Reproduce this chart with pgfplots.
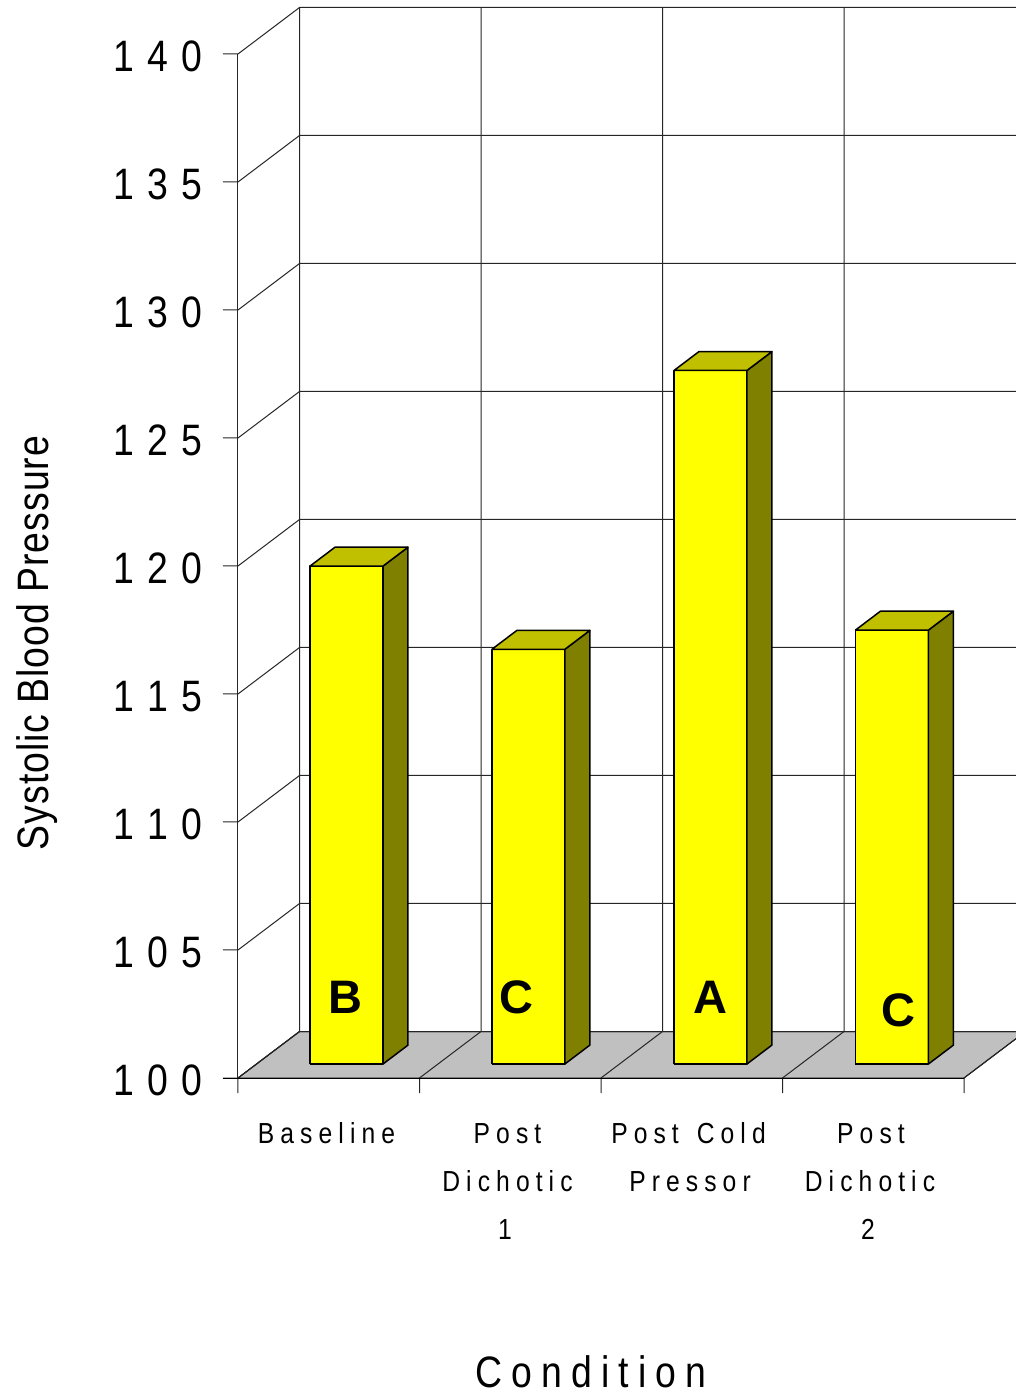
\documentclass[border=0pt]{standalone}
\usepackage{fontspec}
\usepackage{pgfplots}
\pgfplotsset{compat=1.18}
\setmainfont{Liberation Sans}
\newfontfamily\ticknumfont[LetterSpace=31,FakeStretch=0.85,Kerning=Off]{Liberation Sans}
\newfontfamily\catfont[LetterSpace=21,FakeStretch=0.85,Kerning=Off]{Liberation Sans}
\newfontfamily\xtitlefont[LetterSpace=20.5,FakeStretch=0.85,Kerning=Off]{Liberation Sans}
\newfontfamily\ytitlefont[LetterSpace=2.2,FakeStretch=0.85,Kerning=Off]{Liberation Sans}
\definecolor{barfront}{HTML}{FFFF00}
\definecolor{bartop}{HTML}{C0C000}
\definecolor{barside}{HTML}{808000}
\definecolor{floorgray}{HTML}{C0C0C0}
\definecolor{gridline}{HTML}{262626}

% One box: front left/right x, mean value. Depth runs from 0.301 to 0.707.
\newcommand{\boxbar}[3]{%
  \addplot3[fill=barfront,draw=black,line width=1.5pt,line join=round]
    coordinates {(#1,0.301,100)(#2,0.301,100)(#2,0.301,#3)(#1,0.301,#3)(#1,0.301,100)};
  \addplot3[fill=barside,draw=black,line width=1.5pt,line join=round]
    coordinates {(#2,0.301,100)(#2,0.707,100)(#2,0.707,#3)(#2,0.301,#3)(#2,0.301,100)};
  \addplot3[fill=bartop,draw=black,line width=1.5pt,line join=round]
    coordinates {(#1,0.301,#3)(#2,0.301,#3)(#2,0.707,#3)(#1,0.707,#3)(#1,0.301,#3)};
}

\begin{document}
\begin{tikzpicture}
\begin{axis}[
  hide axis, clip=false,
  x={(181.5pt,0pt)}, y={(61.5pt,46.5pt)}, z={(0pt,25.6pt)},
  xmin=0, xmax=4, ymin=0, ymax=1, zmin=100, zmax=140,
]
  \coordinate (base) at (axis cs:0,0,100);
  % floor
  \addplot3[fill=floorgray,draw=black,line width=1pt]
    coordinates {(0,0,100)(4,0,100)(4,1,100)(0,1,100)(0,0,100)};
  % side wall, back wall and value ticks
  \pgfplotsinvokeforeach{100,105,110,115,120,125,130,135,140}{
    \addplot3[draw=gridline,line width=1pt]
      coordinates {(-0.083,0,#1)(0,0,#1)(0,1,#1)(4,1,#1)};
  }
  \pgfplotsinvokeforeach{0,1,2,3,4}{
    \addplot3[draw=gridline,line width=1pt]
      coordinates {(#1,0,99.41)(#1,0,100)(#1,1,100)(#1,1,140)};
  }
  \addplot3[draw=gridline,line width=1pt]
    coordinates {(0,0,100)(0,0,140)};
  \addplot3[draw=black,line width=1pt]
    coordinates {(-0.083,0,100)(4,0,100)};
  % condition means
  \boxbar{0.295}{0.697}{119.45}
  \boxbar{1.297}{1.699}{116.20}
  \boxbar{2.300}{2.702}{127.09}
  \boxbar{3.300}{3.702}{116.95}
\end{axis}
\pgfresetboundingbox
\path (base) ++(-238pt,-317pt) coordinate (sw) ++(1016pt,1395pt) coordinate (ne);
\path[use as bounding box] (sw) rectangle (ne);
% text is positioned in points from the top left corner
\begin{scope}[shift={(sw)},shift={(0pt,1395pt)},x=1pt,y=-1pt]
  \foreach \v/\py in {140/71.5,135/199.5,130/327.5,125/455.5,120/583.5,115/711.5,110/839.5,105/967.5,100/1095.5}
    \node[anchor=base east,inner sep=0pt] at (203,\py)
      {\fontsize{44}{44}\ticknumfont\v};
  \foreach \t/\px/\py in {Baseline/326.5/1143,Post/507.5/1143,Dichotic/507.5/1191,1/505/1239,
      Post\hspace{5pt} Cold/688.5/1143,Pressor/690/1191,Post/871/1143,Dichotic/870/1191,2/868/1239}
    \node[anchor=base,inner sep=0pt] at (\px,\py) {\fontsize{29}{29}\catfont\t};
  \node[anchor=base,inner sep=0pt] at (591,1387) {\fontsize{44}{44}\xtitlefont Condition};
  \node[anchor=base,rotate=90,inner sep=0pt] at (48.5,643)
    {\fontsize{44}{44}\ytitlefont Systolic Blood Pressure};
  \foreach \t/\px/\py in {B/345/1013,C/516/1013,A/710/1013,C/898/1026}
    \node[anchor=base,inner sep=0pt] at (\px,\py) {\fontsize{47}{47}\bfseries\t};
\end{scope}
\end{tikzpicture}
\end{document}
